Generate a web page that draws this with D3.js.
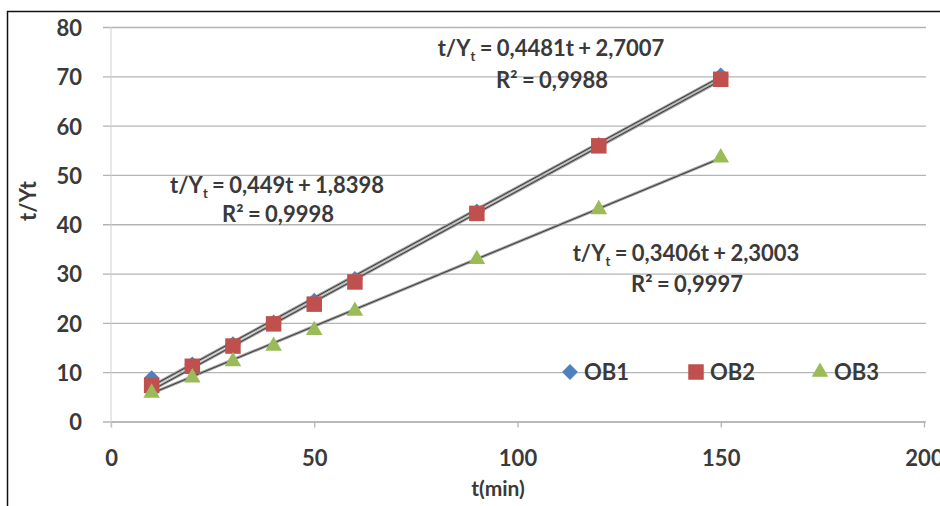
<!DOCTYPE html>
<html>
<head>
<meta charset="utf-8">
<script src="https://cdn.jsdelivr.net/npm/d3@7"></script>
<style>
  body { margin: 0; background: #fff; }
  text { font-family: Lato, "Open Sans", sans-serif; font-weight: bold; fill: #3a3a3a; }
</style>
</head>
<body>
<div id="chart"></div>
<script>
// data
const times = [10, 20, 30, 40, 50, 60, 90, 120, 150];
const ob1 = [8.8, 11.6, 15.7, 20.1, 24.5, 28.9, 42.6, 56.1, 70.2];
const ob2 = [7.3, 11.2, 15.3, 19.8, 23.8, 28.3, 42.2, 55.9, 69.4];
const ob3 = [5.8, 8.9, 12.2, 15.3, 18.5, 22.4, 32.9, 43.0, 53.5];
const xTicks = [0, 50, 100, 150, 200];
const yTicks = [0, 10, 20, 30, 40, 50, 60, 70, 80];

// trendlines as printed on the chart: [slope, intercept]
const trendlines = [
  { slope: 0.4481, icpt: 2.7007 },
  { slope: 0.449, icpt: 1.8398 },
  { slope: 0.3406, icpt: 2.3003 }
];

const W = 940, H = 506;
const margin = { top: 27, left: 111 };
const width = 813, height = 394.5;

const root = d3.select("#chart").append("svg")
  .attr("width", W).attr("height", H);

// outer frame (only top & left visible in the crop)
root.append("rect")
  .attr("x", 7.5).attr("y", 11.5)
  .attr("width", W).attr("height", H)
  .attr("fill", "none").attr("stroke", "#111").attr("stroke-width", 1.5);

const svg = root.append("g").attr("transform", `translate(${margin.left},${margin.top})`);

const x = d3.scaleLinear().domain([0, 200]).range([0, width]);
const y = d3.scaleLinear().domain([0, 80]).range([height, 0]);

// horizontal gridlines + y labels
const yAxis = svg.append("g")
  .call(d3.axisLeft(y).tickValues(yTicks).tickSize(-width - 2).tickPadding(29).tickSizeOuter(0));
yAxis.select(".domain").remove();
yAxis.selectAll(".tick line").attr("stroke", "#b4b4b4").attr("stroke-width", 1.3).attr("x1", -8).attr("x2", width + 2);
yAxis.selectAll(".tick text").style("font-size", "22px").attr("fill", "#3a3a3a").attr("dy", "0.38em");

// x axis
const xAxis = svg.append("g")
  .attr("transform", `translate(0,${height})`)
  .call(d3.axisBottom(x).tickValues(xTicks).tickSize(6).tickPadding(23).tickSizeOuter(0));
xAxis.select(".domain").attr("stroke", "#b4b4b4").attr("stroke-width", 1.3);
xAxis.selectAll(".tick line").attr("stroke", "#b4b4b4").attr("stroke-width", 1.3);
xAxis.selectAll(".tick text").style("font-size", "22px").attr("fill", "#3a3a3a");

// y axis line
svg.append("line")
  .attr("x1", 0).attr("x2", 0).attr("y1", 0).attr("y2", height + 6)
  .attr("stroke", "#d0d0d0").attr("stroke-width", 1);

// axis titles
root.append("text")
  .attr("transform", `translate(36,201) rotate(-90)`)
  .attr("text-anchor", "middle")
  .style("font-size", "22px")
  .text("t/Yt");

root.append("text")
  .attr("x", 498).attr("y", 496)
  .attr("text-anchor", "middle")
  .style("font-size", "21px")
  .text("t(min)");

// trendlines
const line = d3.line().x(d => x(d[0])).y(d => y(d[1]));
trendlines.forEach(t => {
  const pts = [times[0], times[times.length - 1]].map(v => [v, t.slope * v + t.icpt]);
  svg.append("path").datum(pts)
    .attr("d", line)
    .attr("fill", "none")
    .attr("stroke", "#a0a0a0").attr("stroke-width", 3);
  svg.append("path").datum(pts)
    .attr("d", line)
    .attr("fill", "none")
    .attr("stroke", "#3a3a3a").attr("stroke-width", 1);
});

const colors = { OB1: "#4f81bd", OB2: "#c0504d", OB3: "#9bbb59" };
const series = [
  { key: "OB1", values: ob1, shape: d3.symbolDiamond2, size: 160 },
  { key: "OB2", values: ob2, shape: d3.symbolSquare, size: 240 },
  { key: "OB3", values: ob3, shape: d3.symbolTriangle, size: 120 }
];

series.forEach(s => {
  svg.append("g").selectAll("path")
    .data(s.values.map((v, i) => [times[i], v]))
    .enter().append("path")
    .attr("transform", d => `translate(${x(d[0])},${y(d[1])})`)
    .attr("d", d3.symbol().type(s.shape).size(s.size))
    .attr("fill", colors[s.key]);
});

// equation labels
function eqLabel(cx, cy, gap, slope, icpt, r2) {
  const t = root.append("text").attr("x", cx).attr("y", cy)
    .attr("text-anchor", "middle").style("font-size", "22px").style("word-spacing", "-1px");
  t.append("tspan").text("t/Y");
  t.append("tspan").attr("dy", 5).style("font-size", "13px").text("t");
  t.append("tspan").attr("dy", -5).text(` = ${slope}t + ${icpt}`);
  root.append("text").attr("x", cx + 1).attr("y", cy + gap)
    .attr("text-anchor", "middle").style("font-size", "22px").style("word-spacing", "-1px")
    .text("R² = " + r2);
}
eqLabel(551, 56, 32, "0,4481", "2,7007", "0,9988");
eqLabel(277, 193, 29, "0,449", "1,8398", "0,9998");
eqLabel(686, 261, 31, "0,3406", "2,3003", "0,9997");

// legend
const legendItems = [
  { key: "OB1", shape: d3.symbolDiamond2, size: 160, lx: 570 },
  { key: "OB2", shape: d3.symbolSquare, size: 240, lx: 696 },
  { key: "OB3", shape: d3.symbolTriangle, size: 120, lx: 820 }
];
const lg = root.append("g");
legendItems.forEach(it => {
  lg.append("path")
    .attr("transform", `translate(${it.lx},372)`)
    .attr("d", d3.symbol().type(it.shape).size(it.size))
    .attr("fill", colors[it.key]);
  lg.append("text")
    .attr("x", it.lx + 14).attr("y", 372).attr("dy", "0.36em")
    .style("font-size", "22px")
    .text(it.key);
});
</script>
</body>
</html>
